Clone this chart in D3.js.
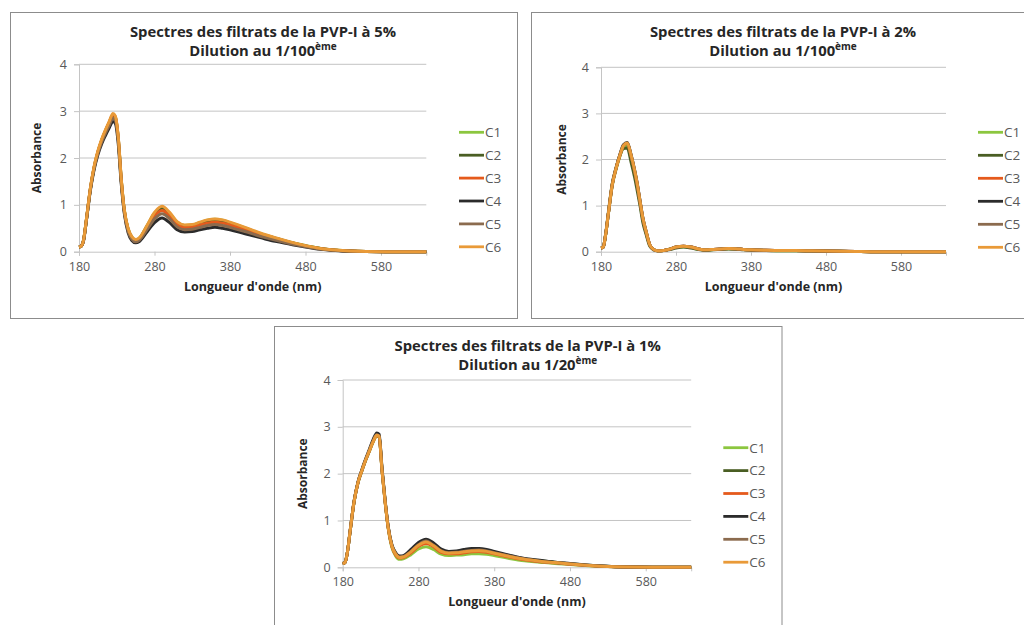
<!DOCTYPE html>
<html>
<head>
<meta charset="utf-8">
<script src="https://cdn.jsdelivr.net/npm/d3@7"></script>
<style>
  html,body{margin:0;padding:0;background:#fff;}
  svg{display:block;}
</style>
</head>
<body>
<svg id="chart" width="1024" height="625"></svg>
<script>
// ---------------- DATA ----------------
const categories = ["C1", "C2", "C3", "C4", "C5", "C6"];
const seriesColors = ["#8cc63f", "#4a5e23", "#e55a1c", "#2b2b2b", "#8b6b4e", "#e99a38"];
const xTicks = [180, 280, 380, 480, 580];
const yTicks = [0, 1, 2, 3, 4];
const xTitle = "Longueur d'onde (nm)";
const yTitle = "Absorbance";

const wavelengths = [180,183,186,190,195,200,205,210,215,220,225,228,232,236,240,245,250,255,260,270,280,290,300,310,320,330,340,350,360,370,380,400,420,440,460,480,500,520,540,560,600,640];

// PVP-I 5% , dilution 1/100
const p5_C1 = [0.10,0.12,0.25,0.71,1.34,1.80,2.13,2.38,2.58,2.76,2.92,2.88,2.43,1.54,0.89,0.49,0.31,0.25,0.29,0.55,0.82,0.95,0.82,0.63,0.56,0.57,0.62,0.67,0.69,0.67,0.62,0.51,0.39,0.29,0.20,0.13,0.07,0.034,0.015,0.005,0,0];
const p5_C2 = [0.10,0.12,0.24,0.70,1.33,1.79,2.12,2.37,2.57,2.75,2.91,2.86,2.41,1.52,0.88,0.48,0.30,0.24,0.28,0.54,0.81,0.93,0.81,0.61,0.55,0.56,0.60,0.65,0.67,0.65,0.60,0.50,0.38,0.29,0.20,0.12,0.07,0.033,0.014,0.005,0,0];
const p5_C3 = [0.10,0.12,0.24,0.71,1.34,1.80,2.13,2.38,2.58,2.76,2.93,2.88,2.43,1.53,0.88,0.47,0.29,0.23,0.27,0.51,0.76,0.88,0.76,0.58,0.51,0.52,0.57,0.61,0.63,0.61,0.57,0.47,0.36,0.27,0.19,0.12,0.063,0.031,0.013,0.004,0,0];
const p5_C4 = [0.10,0.12,0.23,0.69,1.30,1.75,2.07,2.30,2.48,2.64,2.78,2.74,2.30,1.44,0.82,0.41,0.24,0.19,0.22,0.42,0.62,0.72,0.62,0.47,0.42,0.43,0.47,0.50,0.52,0.50,0.47,0.38,0.30,0.22,0.16,0.10,0.052,0.026,0.011,0.004,0,0];
const p5_C5 = [0.10,0.12,0.24,0.70,1.32,1.78,2.10,2.34,2.53,2.70,2.85,2.81,2.37,1.49,0.85,0.44,0.27,0.21,0.25,0.47,0.70,0.81,0.70,0.53,0.47,0.48,0.52,0.56,0.58,0.56,0.52,0.43,0.33,0.25,0.17,0.11,0.058,0.029,0.012,0.004,0,0];
const p5_C6 = [0.10,0.12,0.25,0.72,1.35,1.82,2.15,2.40,2.60,2.78,2.95,2.90,2.45,1.55,0.90,0.50,0.32,0.26,0.30,0.56,0.84,0.97,0.84,0.64,0.57,0.58,0.63,0.68,0.70,0.68,0.63,0.52,0.40,0.30,0.21,0.13,0.07,0.035,0.015,0.005,0,0];

// PVP-I 2% , dilution 1/100
const p2_C1 = [0.08,0.10,0.34,0.84,1.43,1.78,2.06,2.27,2.31,2.03,1.70,1.45,1.06,0.68,0.42,0.14,0.05,0.02,0.02,0.05,0.09,0.11,0.09,0.05,0.035,0.045,0.055,0.065,0.06,0.045,0.035,0.028,0.022,0.022,0.018,0.013,0.009,0.004,0,0,0,0];
const p2_C2 = [0.08,0.10,0.36,0.88,1.48,1.82,2.08,2.24,2.25,1.95,1.60,1.35,1.00,0.62,0.38,0.12,0.04,0.02,0.02,0.04,0.08,0.10,0.08,0.05,0.03,0.04,0.05,0.06,0.055,0.04,0.03,0.025,0.02,0.02,0.015,0.012,0.008,0.004,0,0,0,0];
const p2_C3 = [0.08,0.10,0.35,0.85,1.45,1.80,2.08,2.30,2.35,2.09,1.74,1.49,1.09,0.71,0.44,0.15,0.05,0.02,0.02,0.05,0.10,0.12,0.10,0.06,0.04,0.05,0.06,0.07,0.065,0.05,0.04,0.03,0.025,0.025,0.02,0.015,0.01,0.005,0,0,0,0];
const p2_C4 = [0.08,0.10,0.35,0.85,1.46,1.81,2.10,2.32,2.37,2.11,1.76,1.51,1.11,0.72,0.45,0.15,0.05,0.02,0.02,0.05,0.10,0.12,0.10,0.06,0.04,0.05,0.06,0.07,0.065,0.05,0.04,0.03,0.025,0.025,0.02,0.015,0.01,0.005,0,0,0,0];
const p2_C5 = [0.08,0.10,0.35,0.85,1.45,1.80,2.08,2.30,2.35,2.09,1.74,1.49,1.10,0.71,0.44,0.15,0.05,0.02,0.02,0.05,0.10,0.12,0.10,0.06,0.04,0.05,0.06,0.07,0.065,0.05,0.04,0.03,0.025,0.025,0.02,0.015,0.01,0.005,0,0,0,0];
const p2_C6 = [0.08,0.10,0.35,0.85,1.45,1.80,2.08,2.30,2.36,2.10,1.75,1.50,1.10,0.72,0.45,0.15,0.05,0.02,0.02,0.05,0.10,0.12,0.10,0.06,0.04,0.05,0.06,0.07,0.065,0.05,0.04,0.03,0.025,0.025,0.02,0.015,0.01,0.005,0,0,0,0];

// PVP-I 1% , dilution 1/20
const p1_C1 = [0.08,0.10,0.30,0.79,1.39,1.79,2.04,2.27,2.47,2.67,2.80,2.78,2.04,1.39,0.84,0.42,0.24,0.17,0.18,0.27,0.39,0.44,0.38,0.28,0.25,0.26,0.27,0.29,0.29,0.28,0.25,0.19,0.14,0.11,0.08,0.06,0.037,0.02,0.01,0.004,0,0];
const p1_C2 = [0.08,0.10,0.30,0.80,1.40,1.80,2.05,2.28,2.48,2.69,2.84,2.81,2.07,1.41,0.86,0.46,0.29,0.22,0.23,0.35,0.49,0.57,0.48,0.36,0.32,0.33,0.35,0.37,0.37,0.36,0.32,0.24,0.18,0.14,0.11,0.074,0.047,0.026,0.013,0.005,0,0];
const p1_C3 = [0.08,0.10,0.30,0.80,1.40,1.80,2.05,2.28,2.48,2.68,2.81,2.79,2.05,1.40,0.85,0.44,0.26,0.20,0.21,0.31,0.45,0.51,0.44,0.32,0.29,0.29,0.31,0.33,0.34,0.32,0.29,0.22,0.16,0.12,0.095,0.066,0.043,0.024,0.011,0.005,0,0];
const p1_C4 = [0.08,0.10,0.30,0.80,1.41,1.81,2.07,2.30,2.51,2.72,2.87,2.84,2.10,1.43,0.88,0.48,0.31,0.24,0.25,0.38,0.53,0.60,0.52,0.39,0.34,0.35,0.38,0.40,0.40,0.38,0.34,0.26,0.19,0.15,0.11,0.08,0.05,0.028,0.014,0.006,0,0];
const p1_C5 = [0.08,0.10,0.30,0.80,1.40,1.80,2.05,2.28,2.49,2.69,2.83,2.80,2.06,1.41,0.86,0.46,0.29,0.22,0.23,0.34,0.48,0.56,0.47,0.35,0.31,0.32,0.34,0.36,0.37,0.35,0.31,0.24,0.18,0.13,0.10,0.072,0.046,0.026,0.012,0.005,0,0];
const p1_C6 = [0.08,0.10,0.30,0.80,1.40,1.80,2.05,2.28,2.48,2.68,2.82,2.80,2.05,1.40,0.85,0.45,0.28,0.21,0.22,0.33,0.47,0.54,0.46,0.34,0.30,0.31,0.33,0.35,0.355,0.34,0.30,0.23,0.17,0.13,0.10,0.07,0.045,0.025,0.012,0.005,0,0];

const title5 = ["Spectres des filtrats de la PVP-I à 5%", "Dilution  au 1/100", "ème"];
const title2 = ["Spectres des filtrats de la PVP-I à 2%", "Dilution au 1/100", "ème"];
const title1 = ["Spectres des filtrats de la PVP-I à 1%", "Dilution au 1/20", "ème"];

// ---------------- DRAW ----------------
const svg = d3.select("#chart");
const FONT = "'Open Sans', 'DejaVu Sans', sans-serif";

function drawPanel(cfg, series, title) {
  const g = svg.append("g");
  g.append("rect")
    .attr("x", cfg.bx).attr("y", cfg.by).attr("width", cfg.bw).attr("height", cfg.bh)
    .attr("fill", "#fff").attr("stroke", "#8c8c8c").attr("stroke-width", 1);

  const x = d3.scaleLinear().domain([180, 640]).range([cfg.x0, cfg.x1]);
  const y = d3.scaleLinear().domain([0, 4]).range([cfg.y0, cfg.y4]);

  // gridlines
  g.append("g").selectAll("line").data(yTicks.filter(t => t > 0)).join("line")
    .attr("x1", x(180)).attr("x2", x(640))
    .attr("y1", d => y(d)).attr("y2", d => y(d))
    .attr("stroke", "#c4c4c4").attr("stroke-width", 1);

  // y axis
  const ya = g.append("g").attr("transform", `translate(${x(180)},0)`)
    .call(d3.axisLeft(y).tickValues(yTicks).tickFormat(d3.format("d")).tickSize(5).tickPadding(7));
  ya.select(".domain").attr("stroke", "#c4c4c4");
  ya.selectAll(".tick line").attr("stroke", "#c4c4c4");
  ya.selectAll("text").attr("fill", "#595959").style("font-family", FONT).style("font-size", "12.5px");

  // x axis
  const xa = g.append("g").attr("transform", `translate(0,${y(0)})`)
    .call(d3.axisBottom(x).tickValues(xTicks).tickFormat(d3.format("d")).tickSize(4).tickPadding(6));
  xa.select(".domain").attr("stroke", "#c4c4c4");
  xa.selectAll(".tick line").attr("stroke", "#c4c4c4");
  xa.selectAll("text").attr("fill", "#595959").style("font-family", FONT).style("font-size", "12.5px");

  // lines
  const line = d3.line().x((d, i) => x(wavelengths[i])).y(d => y(d)).curve(d3.curveMonotoneX);
  g.append("g").selectAll("path").data(series).join("path")
    .attr("d", d => line(d))
    .attr("fill", "none")
    .attr("stroke", (d, i) => seriesColors[i])
    .attr("stroke-width", 3)
    .attr("stroke-linejoin", "round");

  // legend
  const lg = g.append("g").selectAll("g").data(categories).join("g")
    .attr("transform", (d, i) => `translate(${cfg.lx},${cfg.ly + i * cfg.lstep})`);
  lg.append("line").attr("x1", 0).attr("x2", 25).attr("y1", 0).attr("y2", 0)
    .attr("stroke", (d, i) => seriesColors[i]).attr("stroke-width", 2.8);
  lg.append("text").attr("x", 26).attr("y", 0).attr("dy", "0.36em")
    .attr("fill", "#595959").style("font-family", FONT).style("font-size", "13.5px")
    .text(d => d);

  // titles
  const t = g.append("text").attr("text-anchor", "middle")
    .style("font-family", FONT).style("font-weight", "bold").style("font-size", "14.8px").attr("fill", "#262626");
  t.append("tspan").attr("x", cfg.tx).attr("y", cfg.ty).text(title[0]);
  const t2 = g.append("text").attr("text-anchor", "middle")
    .style("font-family", FONT).style("font-weight", "bold").style("font-size", "14.8px").attr("fill", "#262626")
    .attr("x", cfg.tx).attr("y", cfg.ty + 18.5);
  t2.append("tspan").text(title[1]);
  t2.append("tspan").attr("dy", -5.5).style("font-size", "10px").text(title[2]);

  // axis titles
  g.append("text").attr("x", (cfg.x0 + cfg.x1) / 2).attr("y", cfg.y0 + 39)
    .attr("text-anchor", "middle").attr("fill", "#262626")
    .style("font-family", FONT).style("font-weight", "bold").style("font-size", "12.5px")
    .text(xTitle);
  g.append("text")
    .attr("transform", `translate(${cfg.yl},${(cfg.y0 + cfg.y4) / 2}) rotate(-90)`)
    .attr("text-anchor", "middle").attr("dy", "0.35em").attr("fill", "#262626")
    .style("font-family", FONT).style("font-weight", "bold").style("font-size", "12px")
    .text(yTitle);
}

drawPanel({bx: 10.5, by: 12.5, bw: 507, bh: 306, x0: 79, x1: 426.3, y0: 251.7, y4: 64.3,
           lx: 459, ly: 132.3, lstep: 22.9, tx: 263, ty: 37, yl: 37},
          [p5_C1, p5_C2, p5_C3, p5_C4, p5_C5, p5_C6], title5);
drawPanel({bx: 531.5, by: 12.5, bw: 520, bh: 306, x0: 601, x1: 946, y0: 251.7, y4: 67.3,
           lx: 978, ly: 132.3, lstep: 23, tx: 783, ty: 37, yl: 561.5},
          [p2_C1, p2_C2, p2_C3, p2_C4, p2_C5, p2_C6], title2);
drawPanel({bx: 274.5, by: 326.5, bw: 507.5, bh: 320, x0: 342.7, x1: 691.2, y0: 567.3, y4: 380,
           lx: 723.3, ly: 447.7, lstep: 22.9, tx: 527.7, ty: 351, yl: 302.5},
          [p1_C1, p1_C2, p1_C3, p1_C4, p1_C5, p1_C6], title1);
</script>
</body>
</html>
